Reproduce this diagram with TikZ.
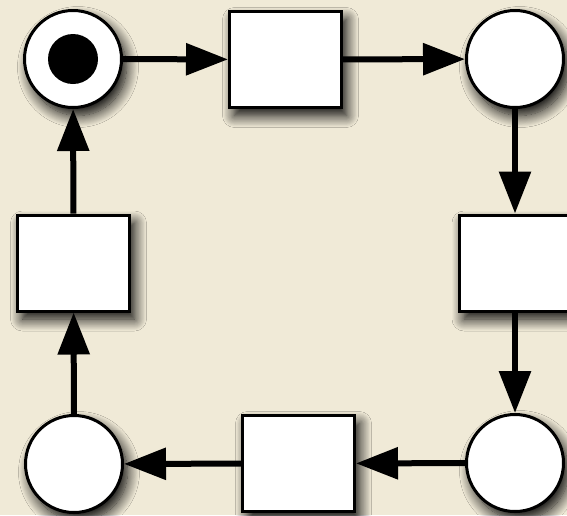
\documentclass[tikz,border=0pt]{standalone}
\usepackage{tikz}
\usetikzlibrary{arrows.meta, shadows.blur}

\definecolor{carta}{HTML}{F0EAD7}

\tikzset{
    ombra/.style={blur shadow={shadow xshift=5pt, shadow yshift=-8pt,
        shadow blur radius=12pt, shadow blur steps=14, shadow opacity=100}},
    posto/.style={circle, draw, fill=white, line width=3pt, inner sep=0pt,
        minimum size=97pt, ombra},
    transizione/.style={rectangle, draw, fill=white, line width=3pt, inner sep=0pt,
        minimum width=112pt, minimum height=96pt, ombra},
    arco/.style={line width=6pt, -{Triangle[length=42pt, width=31pt]}}
}

\begin{document}
\begin{tikzpicture}[x=1pt, y=-1pt]
    % sfondo
    \fill[carta] (0,0) rectangle (567,515);
    \useasboundingbox (0,0) rectangle (567,515);

    % posti
    \node[posto] (p1) at (73,59) {};
    \node[posto] (p2) at (515,59) {};
    \node[posto] (p3) at (515,463) {};
    \node[posto] (p4) at (74,464) {};

    % marca nel primo posto
    \fill (p1) circle (25pt);

    % transizioni
    \node[transizione] (t1) at (285.5,59.5) {};
    \node[transizione] (t2) at (515,263) {};
    \node[transizione] (t3) at (298.5,463.5) {};
    \node[transizione] (t4) at (73.5,263) {};

    % archi
    \draw[arco] (p1) -- (t1);
    \draw[arco] (t1) -- (p2);
    \draw[arco] (p2) -- (t2);
    \draw[arco] (t2) -- (p3);
    \draw[arco] (p3) -- (t3);
    \draw[arco] (t3) -- (p4);
    \draw[arco] (p4) -- (t4);
    \draw[arco] (t4) -- (p1);
\end{tikzpicture}
\end{document}
